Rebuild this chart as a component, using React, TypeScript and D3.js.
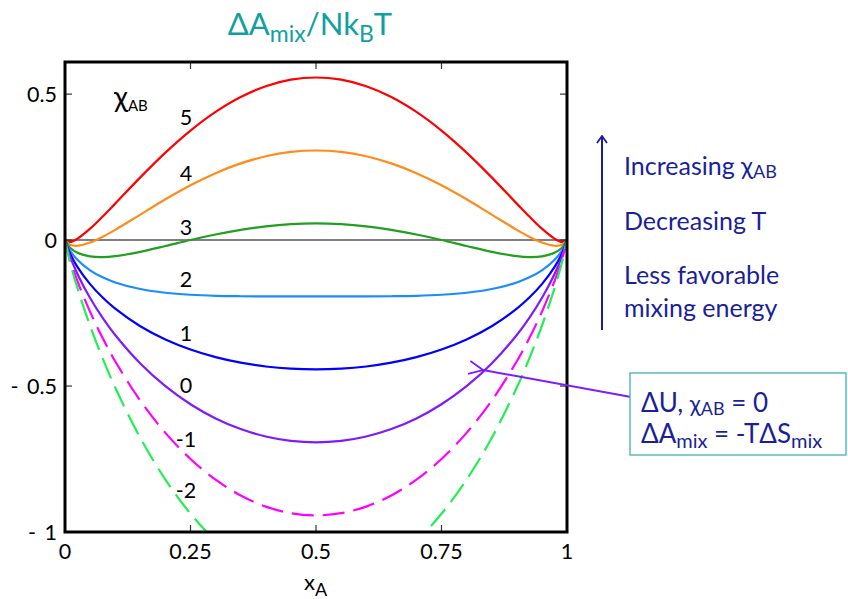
import React from "react";
import * as d3 from "d3";

const xGrid = [0, 0.01, 0.025, 0.05, 0.075, 0.1, 0.15, 0.2, 0.25, 0.3, 0.35, 0.4, 0.45, 0.5, 0.55, 0.6, 0.65, 0.7, 0.75, 0.8, 0.85, 0.9, 0.925, 0.95, 0.975, 0.99, 1];

const chi5 = [0, -0.0065, 0.005, 0.039, 0.0805, 0.1249, 0.2148, 0.2996, 0.3752, 0.4391, 0.4901, 0.527, 0.5494, 0.5569, 0.5494, 0.527, 0.4901, 0.4391, 0.3752, 0.2996, 0.2148, 0.1249, 0.0805, 0.039, 0.005, -0.0065, 0];
const chi4 = [0, -0.0164, -0.0194, -0.0085, 0.0111, 0.0349, 0.0873, 0.1396, 0.1877, 0.2291, 0.2626, 0.287, 0.3019, 0.3069, 0.3019, 0.287, 0.2626, 0.2291, 0.1877, 0.1396, 0.0873, 0.0349, 0.0111, -0.0085, -0.0194, -0.0164, 0];
const chi3 = [0, -0.0263, -0.0438, -0.056, -0.0583, -0.0551, -0.0402, -0.0204, 0.0002, 0.0191, 0.0351, 0.047, 0.0544, 0.0569, 0.0544, 0.047, 0.0351, 0.0191, 0.0002, -0.0204, -0.0402, -0.0551, -0.0583, -0.056, -0.0438, -0.0263, 0];
const chi2 = [0, -0.0362, -0.0682, -0.1035, -0.1277, -0.1451, -0.1677, -0.1804, -0.1873, -0.1909, -0.1924, -0.193, -0.1931, -0.1931, -0.1931, -0.193, -0.1924, -0.1909, -0.1873, -0.1804, -0.1677, -0.1451, -0.1277, -0.1035, -0.0682, -0.0362, 0];
const chi1 = [0, -0.0461, -0.0925, -0.151, -0.197, -0.2351, -0.2952, -0.3404, -0.3748, -0.4009, -0.4199, -0.433, -0.4406, -0.4431, -0.4406, -0.433, -0.4199, -0.4009, -0.3748, -0.3404, -0.2952, -0.2351, -0.197, -0.151, -0.0925, -0.0461, 0];
const chi0 = [0, -0.056, -0.1169, -0.1985, -0.2664, -0.3251, -0.4227, -0.5004, -0.5623, -0.6109, -0.6474, -0.673, -0.6881, -0.6931, -0.6881, -0.673, -0.6474, -0.6109, -0.5623, -0.5004, -0.4227, -0.3251, -0.2664, -0.1985, -0.1169, -0.056, 0];
const chiM1 = [0, -0.0659, -0.1413, -0.246, -0.3358, -0.4151, -0.5502, -0.6604, -0.7498, -0.8209, -0.8749, -0.913, -0.9356, -0.9431, -0.9356, -0.913, -0.8749, -0.8209, -0.7498, -0.6604, -0.5502, -0.4151, -0.3358, -0.246, -0.1413, -0.0659, 0];
const chiM2 = [0, -0.0758, -0.1657, -0.2935, -0.4052, -0.5051, -0.6777, -0.8204, -0.9373, -1.0309, -1.1024, -1.153, -1.1831, -1.1931, -1.1831, -1.153, -1.1024, -1.0309, -0.9373, -0.8204, -0.6777, -0.5051, -0.4052, -0.2935, -0.1657, -0.0758, 0];

const seriesLabels = ["5", "4", "3", "2", "1", "0", "-1", "-2"];
const seriesValues = [chi5, chi4, chi3, chi2, chi1, chi0, chiM1, chiM2];
const seriesColors = ["#ff0000", "#ff8c1a", "#1fa01f", "#1a8cff", "#0000ff", "#7f1aff", "#ff00ff", "#22ee55"];
const seriesDashed = [false, false, false, false, false, false, true, true];
const labelY = [0.42, 0.23, 0.045, -0.135, -0.32, -0.495, -0.68, -0.855];

const xTicks = [0, 0.25, 0.5, 0.75, 1];
const xTickLabels = ["0", "0.25", "0.5", "0.75", "1"];
const yTicks = [0.5, 0, -0.5, -1];
const yTickLabels = ["0.5", "0", "- 0.5", "- 1"];

const FONT = "Lato, 'Open Sans', sans-serif";
const NAVY = "#1a1f99";

export default function App() {
  const left = 65, right = 567, top = 62, bottom = 532;
  const x = d3.scaleLinear().domain([0, 1]).range([left, right]);
  const y = d3.scaleLinear().domain([-1, 0.61]).range([bottom, top]);
  const line = d3
    .line<number>()
    .x((_, i) => x(xGrid[i]))
    .y((d) => y(d))
    .curve(d3.curveCatmullRom.alpha(0.5));

  return (
    <svg width={848} height={599} style={{ position: "absolute", left: 0, top: 0, fontFamily: FONT }}>
      <defs>
        <clipPath id="plot">
          <rect x={left} y={top} width={right - left} height={bottom - top} />
        </clipPath>
        <marker id="openArrow" viewBox="0 0 16 16" refX="1" refY="8" markerWidth="16" markerHeight="16" markerUnits="userSpaceOnUse" orient="auto">
          <path d="M15,1.5 L1,8 L15,14.5" fill="none" stroke="#7f1aff" strokeWidth={1.8} />
        </marker>
        <marker id="navyArrow" viewBox="0 0 12 12" refX="6" refY="1" markerWidth="12" markerHeight="12" markerUnits="userSpaceOnUse" orient="0">
          <path d="M1,8 L6,1 L11,8" fill="none" stroke={NAVY} strokeWidth={1.8} />
        </marker>
      </defs>

      {/* Title */}
      <text x={310} y={35} textAnchor="middle" fill="#10a0a0" fontSize={31}>
        ΔA<tspan fontSize={23} dy={7}>mix</tspan>
        <tspan dy={-7}>/Nk</tspan>
        <tspan fontSize={23} dy={7}>B</tspan>
        <tspan dy={-7}>T</tspan>
      </text>

      {/* zero line */}
      <line x1={left} x2={right} y1={y(0)} y2={y(0)} stroke="#555" strokeWidth={1.5} />

      {/* curves */}
      <g clipPath="url(#plot)">
        {seriesValues.map((vals, k) => (
          <path
            key={k}
            d={line(vals) || ""}
            fill="none"
            stroke={seriesColors[k]}
            strokeWidth={2.2}
            strokeDasharray={seriesDashed[k] ? "22 9" : undefined}
          />
        ))}
      </g>

      {/* ticks */}
      {xTicks.slice(1, -1).map((t, i) => (
        <g key={"xt" + i}>
          <line x1={x(t)} x2={x(t)} y1={bottom} y2={bottom - 7} stroke="#333" strokeWidth={1.2} />
          <line x1={x(t)} x2={x(t)} y1={top} y2={top + 7} stroke="#333" strokeWidth={1.2} />
        </g>
      ))}
      {yTicks.slice(0, -1).map((t, i) => (
        <g key={"yt" + i}>
          <line x1={left} x2={left + 7} y1={y(t)} y2={y(t)} stroke="#333" strokeWidth={1.2} />
          <line x1={right} x2={right - 7} y1={y(t)} y2={y(t)} stroke="#333" strokeWidth={1.2} />
        </g>
      ))}

      {/* frame */}
      <rect x={left} y={top} width={right - left} height={bottom - top} fill="none" stroke="#000" strokeWidth={3} />

      {/* tick labels */}
      {xTicks.map((t, i) => (
        <text key={"xl" + i} x={x(t)} y={559} textAnchor="middle" fontSize={21.5} fill="#000">
          {xTickLabels[i]}
        </text>
      ))}
      {yTicks.map((t, i) => (
        <text key={"yl" + i} x={57} y={y(t) + 8} textAnchor="end" fontSize={21.5} fill="#000" style={{ whiteSpace: "pre" }} wordSpacing={3}>
          {yTickLabels[i]}
        </text>
      ))}
      <text x={304} y={590} fontSize={22} fill="#000">
        x<tspan fontSize={18} dy={6}>A</tspan>
      </text>

      {/* chi label */}
      <text x={114} y={107} fontSize={29} fill="#000">
        χ<tspan fontSize={15} dy={4}>AB</tspan>
      </text>
      {seriesLabels.map((s, k) => (
        <text key={"sl" + k} x={186} y={y(labelY[k]) + 8} textAnchor="middle" fontSize={21.5} fill="#000">
          {s}
        </text>
      ))}

      {/* right side arrow and text */}
      <line x1={602} x2={602} y1={330} y2={136} stroke={NAVY} strokeWidth={2} markerEnd="url(#navyArrow)" />
      <text x={624} y={175} fontSize={25} fill={NAVY}>
        Increasing χ<tspan fontSize={18} dy={3}>AB</tspan>
      </text>
      <text x={624} y={230} fontSize={25} fill={NAVY}>Decreasing T</text>
      <text x={624} y={284} fontSize={25} fill={NAVY}>Less favorable</text>
      <text x={624} y={317} fontSize={25} fill={NAVY}>mixing energy</text>

      {/* annotation */}
      <line x1={631} y1={397} x2={483} y2={370} stroke="#7f1aff" strokeWidth={2} markerEnd="url(#openArrow)" />
      <rect x={630} y={373} width={216} height={82} fill="#fff" stroke="#33aaaa" strokeWidth={1.2} />
      <text x={641} y={412} fontSize={26} fill={NAVY}>
        ΔU, <tspan fontSize={23}>χ</tspan>
        <tspan fontSize={18} dy={3}>AB</tspan>
        <tspan dy={-3}> = 0</tspan>
      </text>
      <text x={641} y={443} fontSize={26} fill={NAVY}>
        ΔA<tspan fontSize={20} dy={5}>mix</tspan>
        <tspan dy={-5}> = -TΔS</tspan>
        <tspan fontSize={20} dy={5}>mix</tspan>
      </text>
    </svg>
  );
}
